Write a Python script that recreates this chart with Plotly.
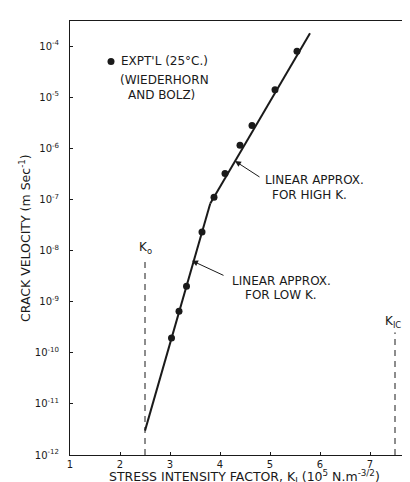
import plotly.graph_objects as go

# Experimental data (Wiederhorn and Bolz), K in 1e5 N m^-3/2, velocity in m/s
k_expt = [3.03, 3.18, 3.33, 3.64, 3.88, 4.10, 4.40, 4.64, 5.10, 5.54]
v_expt = [1.95e-10, 6.5e-10, 2.0e-9, 2.3e-8, 1.1e-7, 3.2e-7, 1.15e-6, 2.8e-6, 1.4e-5, 7.9e-5]

# Linear approximations (piecewise, in log space)
k_low = [2.50, 3.805]
v_low = [3.0e-12, 8.3e-8]
k_high = [3.805, 5.80]
v_high = [8.3e-8, 1.78e-4]

# Threshold / toughness markers
k0 = 2.5
k0_v = [1e-12, 7e-9]
kic = 7.5
kic_v = [1e-12, 2.5e-10]

x_ticks = [1, 2, 3, 4, 5, 6, 7]
y_exps = [-4, -5, -6, -7, -8, -9, -10, -11, -12]

FONT = "DejaVu Sans"
INK = "#1a1a1a"

fig = go.Figure()
fig.add_trace(go.Scatter(x=k_low, y=v_low, mode="lines",
                         line=dict(color=INK, width=2), showlegend=False))
fig.add_trace(go.Scatter(x=k_high, y=v_high, mode="lines",
                         line=dict(color=INK, width=2), showlegend=False))
fig.add_trace(go.Scatter(x=k_expt, y=v_expt, mode="markers",
                         marker=dict(color=INK, size=7), showlegend=False))
fig.add_trace(go.Scatter(x=[k0, k0], y=k0_v, mode="lines",
                         line=dict(color=INK, width=1, dash="6px,5px"), showlegend=False))
fig.add_trace(go.Scatter(x=[kic, kic], y=kic_v, mode="lines",
                         line=dict(color=INK, width=1, dash="6px,5px"), showlegend=False))
# legend marker
fig.add_trace(go.Scatter(x=[1.82], y=[10**-4.3], mode="markers",
                         marker=dict(color=INK, size=7), showlegend=False))

tf = dict(family=FONT, size=12, color=INK)
anns = [
    dict(x=1.98, y=-4.3, text="EXPT'L (25°C.)", xanchor="left"),
    dict(x=1.95, y=-4.66, text="(WIEDERHORN", xanchor="left"),
    dict(x=2.12, y=-4.96, text="AND BOLZ)", xanchor="left"),
    dict(x=4.85, y=-6.63, text="LINEAR APPROX.", xanchor="left"),
    dict(x=5.0, y=-6.91, text="FOR HIGH K.", xanchor="left"),
    dict(x=4.2, y=-8.6, text="LINEAR APPROX.", xanchor="left"),
    dict(x=4.46, y=-8.87, text="FOR LOW K.", xanchor="left"),
    dict(x=2.5, y=-7.95, text="K<sub>o</sub>", xanchor="center"),
    dict(x=7.45, y=-9.4, text="K<sub>IC</sub>", xanchor="center"),
]
for a in anns:
    fig.add_annotation(x=a["x"], y=a["y"], text=a["text"], xanchor=a["xanchor"],
                       yanchor="middle", showarrow=False, font=tf)

# arrows
fig.add_annotation(x=4.3, y=-6.25, ax=4.82, ay=-6.58, xref="x", yref="y",
                   axref="x", ayref="y", text="", showarrow=True,
                   arrowhead=2, arrowsize=1.2, arrowwidth=1, arrowcolor=INK)
fig.add_annotation(x=3.44, y=-8.2, ax=4.1, ay=-8.5, xref="x", yref="y",
                   axref="x", ayref="y", text="", showarrow=True,
                   arrowhead=2, arrowsize=1.2, arrowwidth=1, arrowcolor=INK)
# "8" tick label, partially cut at right edge
fig.add_annotation(x=7.9, y=-12, text="8", xanchor="center", yanchor="top",
                   yshift=-3, showarrow=False, font=dict(family=FONT, size=10, color=INK))

# axis titles
fig.add_annotation(xref="paper", yref="paper", x=0.5, y=0, yshift=-22,
                   text="STRESS INTENSITY FACTOR, K<sub>I</sub> (10<sup>5</sup> N.m<sup>-3/2</sup>)",
                   xanchor="center", yanchor="middle", showarrow=False,
                   font=dict(family=FONT, size=12.5, color=INK))
fig.add_annotation(xref="paper", yref="paper", x=0, y=0.5, xshift=-45,
                   text="CRACK VELOCITY (m Sec<sup>-1</sup>)", textangle=-90,
                   xanchor="center", yanchor="middle", showarrow=False,
                   font=dict(family=FONT, size=12.5, color=INK))

fig.update_xaxes(range=[1, 7.96], tickvals=x_ticks, ticktext=[str(t) for t in x_ticks],
                 ticks="inside", ticklen=3, tickcolor=INK, showline=True, linecolor=INK,
                 linewidth=1, mirror=True, showgrid=False, zeroline=False,
                 tickfont=dict(family=FONT, size=10, color=INK))
fig.update_yaxes(type="log", range=[-12, -3.51],
                 tickvals=[10**e for e in y_exps],
                 ticktext=["10<sup>%d</sup>" % e for e in y_exps],
                 ticks="inside", ticklen=3, tickcolor=INK, showline=True, linecolor=INK,
                 linewidth=1, showgrid=False, zeroline=False,
                 tickfont=dict(family=FONT, size=10, color=INK), ticklabelstandoff=8)

fig.update_layout(width=410, height=482, margin=dict(l=62, r=0, t=13, b=35),
                  plot_bgcolor="white", paper_bgcolor="white")
fig.write_html("out.html")
